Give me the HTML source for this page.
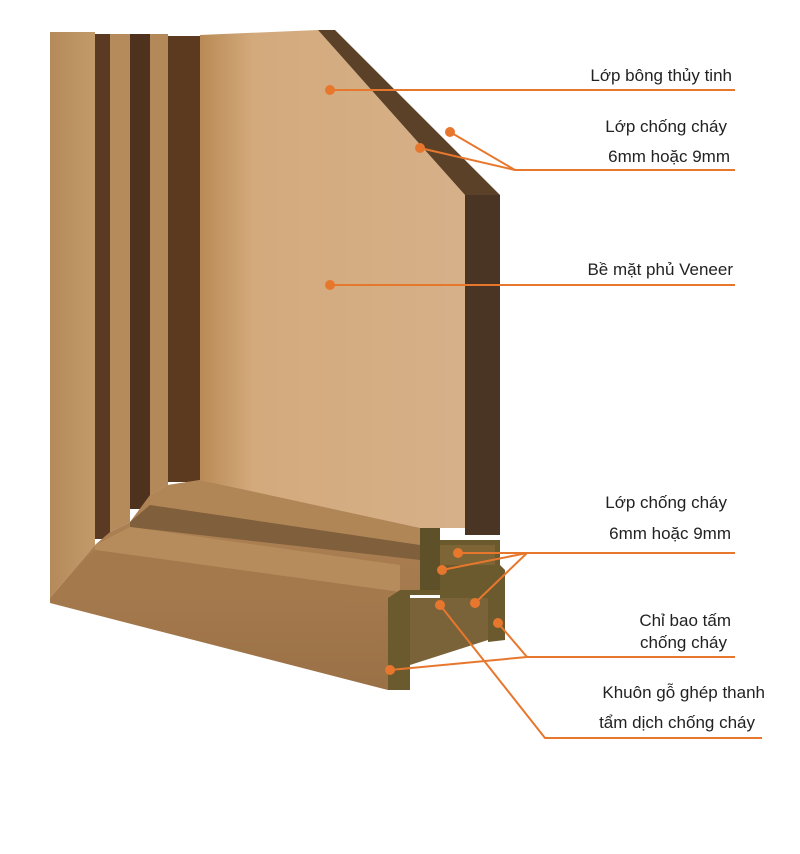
<!DOCTYPE html>
<html><head><meta charset="utf-8"><style>
html,body{margin:0;padding:0;background:#fff;}
svg{display:block;}
text{font-family:"Liberation Sans",sans-serif;font-size:17px;fill:#222;}
</style></head><body>
<svg width="800" height="854" viewBox="0 0 800 854" xmlns="http://www.w3.org/2000/svg">
<defs>
<linearGradient id="pan" x1="0" x2="1" y1="0" y2="0">
<stop offset="0" stop-color="#b98a55"/><stop offset="0.2" stop-color="#d3aa7c"/><stop offset="1" stop-color="#d6b089"/>
</linearGradient>
<linearGradient id="frm" x1="0" x2="1"><stop offset="0" stop-color="#b58a5a"/><stop offset="1" stop-color="#c29a6a"/></linearGradient>
<linearGradient id="bot" x1="0" x2="0" y1="0" y2="1"><stop offset="0" stop-color="#b08455"/><stop offset="1" stop-color="#9a7046"/></linearGradient>
</defs>
<!-- panel face -->
<polygon points="200,35 318,30 465,195 465,528 420,528 200,480" fill="url(#pan)"/>
<polygon points="318,30 335,30 500,195 465,195" fill="#5a4128"/>
<polygon points="465,195 500,195 500,535 465,535" fill="#4a3424"/>
<!-- frame left stiles -->
<polygon points="50,32 95,32 95,545 50,598" fill="url(#frm)"/>
<rect x="95" y="34" width="15" height="505" fill="#5a3a22"/>
<polygon points="110,34 130,34 130,522 110,532" fill="#b58b5b"/>
<rect x="130" y="34" width="20" height="475" fill="#4e321d"/>
<polygon points="150,34 168,34 168,485 150,495" fill="#b48959"/>
<rect x="168" y="36" width="32" height="446" fill="#5b3a1f"/>
<!-- bottom frame -->
<polygon points="50,598 95,545 110,532 130,522 150,495 168,485 200,480 420,528 420,590 400,590 400,690 388,690 50,603" fill="url(#bot)"/>
<polygon points="150,495 168,485 200,480 420,528 420,545 150,505" fill="#b18656"/>
<polygon points="130,522 150,505 420,545 420,560 130,527" fill="#7f5f3c"/>
<polygon points="95,545 130,527 400,565 400,592 95,550" fill="#b78c5c"/>
<polygon points="50,598 95,550 400,592 390,602" fill="#a47a4d"/>
<!-- cross-section end -->
<polygon points="420,528 440,528 440,540 500,540 500,565 505,570 505,640 488,642 488,612 440,612 440,595 410,595 410,690 388,690 388,598 400,590 420,590" fill="#6a5a2e"/>
<polygon points="440,545 495,545 495,565 440,565" fill="#7d6535"/>
<polygon points="410,598 488,598 488,640 410,665" fill="#7a6338"/>
<polygon points="420,528 440,528 440,590 420,590" fill="#5e5028"/>
<!-- orange leader lines -->
<g stroke="#e8772e" stroke-width="2" fill="none">
<line x1="330" y1="90" x2="735" y2="90"/>
<polyline points="450,132 515,170 735,170"/>
<line x1="420" y1="148" x2="515" y2="170"/>
<line x1="330" y1="285" x2="735" y2="285"/>
<polyline points="458,553 527,553 735,553"/>
<line x1="442" y1="570" x2="527" y2="553"/>
<line x1="475" y1="603" x2="527" y2="553"/>
<polyline points="498,623 527,657 735,657"/>
<line x1="390" y1="670" x2="527" y2="657"/>
<polyline points="440,605 545,738 762,738"/>
</g>
<g fill="#e8772e">
<circle cx="330" cy="90" r="5"/><circle cx="450" cy="132" r="5"/><circle cx="420" cy="148" r="5"/>
<circle cx="330" cy="285" r="5"/><circle cx="458" cy="553" r="5"/><circle cx="442" cy="570" r="5"/>
<circle cx="475" cy="603" r="5"/><circle cx="498" cy="623" r="5"/><circle cx="390" cy="670" r="5"/>
<circle cx="440" cy="605" r="5"/>
</g>
<g text-anchor="end">
<text x="732" y="81">Lớp bông thủy tinh</text>
<text x="727" y="132">Lớp chống cháy</text>
<text x="730" y="162">6mm hoặc 9mm</text>
<text x="733" y="275">Bề mặt phủ Veneer</text>
<text x="727" y="508">Lớp chống cháy</text>
<text x="731" y="539">6mm hoặc 9mm</text>
<text x="731" y="626">Chỉ bao tấm</text>
<text x="727" y="648">chống cháy</text>
<text x="765" y="698">Khuôn gỗ ghép thanh</text>
<text x="755" y="728">tẩm dịch chống cháy</text>
</g>
</svg>
</body></html>
